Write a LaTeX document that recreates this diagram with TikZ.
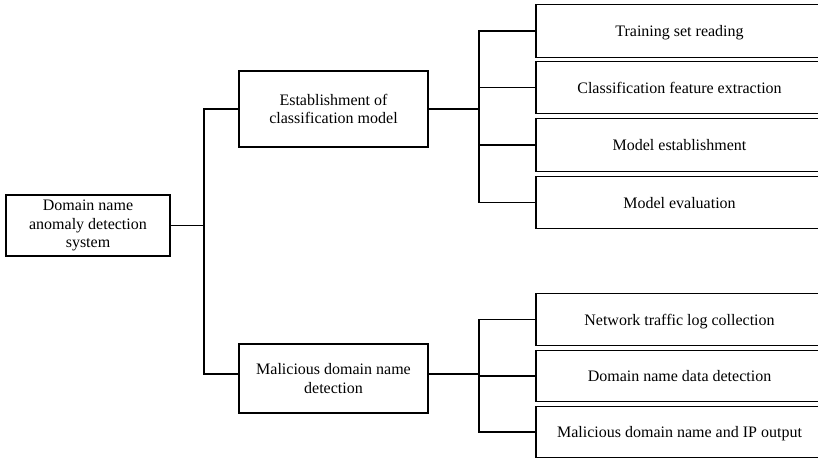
\documentclass[tikz,border=0pt]{standalone}
\usepackage{fontspec}
\setmainfont{Liberation Serif}
\begin{document}
\begin{tikzpicture}[x=1pt,y=-1pt,
  box/.style={draw, line width=1.5pt, inner sep=0pt, align=center, font=\fontsize{16}{18.5}\selectfont},
  link/.style={line width=1.7pt}]
\useasboundingbox (0,0) rectangle (818,461);
\clip (0,0) rectangle (818,461);
\node[box, minimum width=164, minimum height=61] (root) at (88,225.5) {Domain name\\anomaly detection\\system};
\node[box, minimum width=189, minimum height=76] (est) at (333.5,109) {Establishment of\\classification model};
\node[box, minimum width=189, minimum height=69] (mal) at (333.5,378.5) {Malicious domain name\\detection};
\node[box, minimum width=287, minimum height=53, text depth=0pt] (c1) at (679.5,31) {Training set reading};
\node[box, minimum width=287, minimum height=52, text depth=0pt] (c2) at (679.5,87.5) {Classification feature extraction};
\node[box, minimum width=287, minimum height=53, text depth=0pt] (c3) at (679.5,145) {Model establishment};
\node[box, minimum width=287, minimum height=52, text depth=0pt] (c4) at (679.5,202.5) {Model evaluation};
\node[box, minimum width=287, minimum height=52, text depth=0pt] (d1) at (679.5,319.5) {Network traffic log collection};
\node[box, minimum width=287, minimum height=51, text depth=0pt] (d2) at (679.5,376) {Domain name data detection};
\node[box, minimum width=287, minimum height=51, text depth=0pt] (d3) at (679.5,432) {Malicious domain name and IP output};
\coordinate (t1) at (204,225.5);
\coordinate (t2) at (479,109);
\coordinate (t3) at (479,374);
\coordinate (malin) at (239,374);
% trunk
\draw[link] (root.east) -- (t1);
\draw[link] (est.west) -| (t1) |- (malin);
% upper branch
\draw[link] (est.east) -- (t2);
\draw[link] (c1.west) -| (t2) |- (c4.west);
\draw[link] (t2 |- c2.west) -- (c2.west);
\draw[link] (t2 |- c3.west) -- (c3.west);
% lower branch
\draw[link] (mal.east |- t3) -- (t3);
\draw[link] (d1.west) -| (t3) |- (d3.west);
\draw[link] (t3 |- d2.west) -- (d2.west);
\end{tikzpicture}
\end{document}
